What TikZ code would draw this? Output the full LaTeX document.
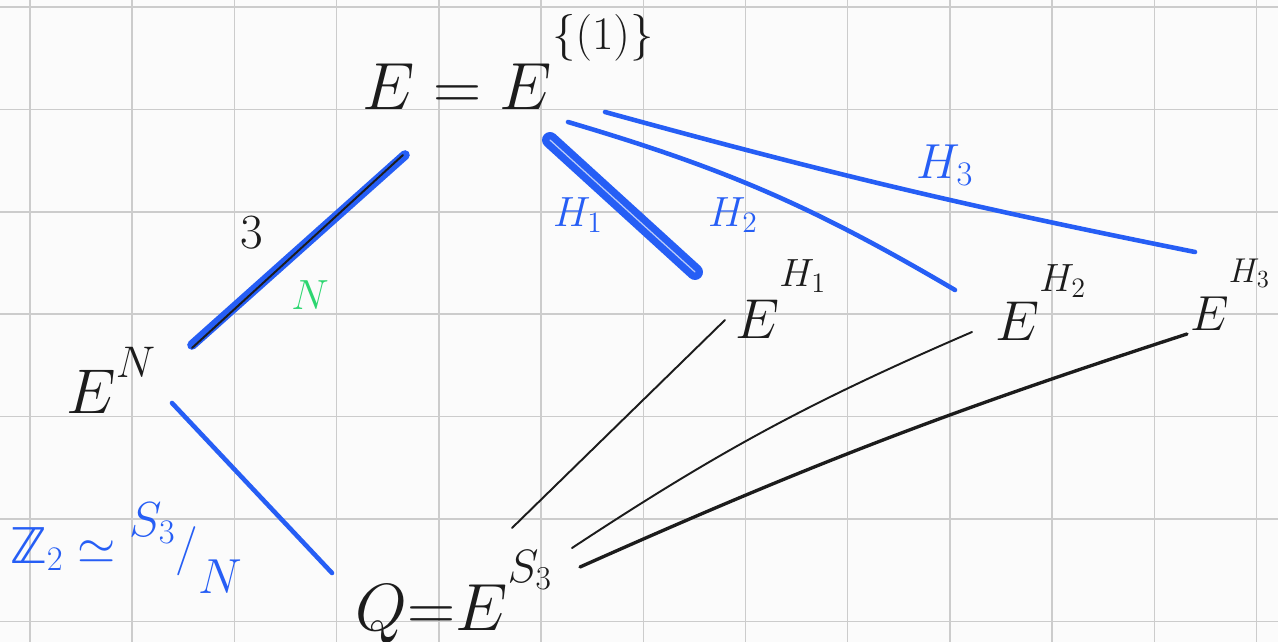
\documentclass[tikz,border=0pt]{standalone}
\usepackage{fix-cm}
\usepackage{fontspec}
\newfontfamily\symbfont{DejaVu Sans}
\newcommand{\upsup}[2]{^{\raisebox{#1}{$\scriptstyle #2$}}}
\definecolor{penblue}{RGB}{38, 94, 245}
\definecolor{pengreen}{RGB}{44, 214, 112}
\definecolor{penink}{RGB}{28, 28, 28}
\definecolor{gridgray}{RGB}{204, 204, 204}
\definecolor{paper}{RGB}{251, 251, 251}
\usetikzlibrary{positioning, calc}
\tikzset{
	field/.style={inner sep=0pt, anchor=base west, text=penink},
	edgelabel/.style={inner sep=0pt, font=\fontsize{24}{28}\selectfont},
	gridline/.style={draw=gridgray, line width=0.8pt},
	blueheavy/.style={draw=penblue, line width=5.5pt, line cap=round},
	bluedouble/.style={draw=penblue, line width=4.2pt, line cap=round, double=penblue!30!paper, double distance=0.7pt},
	bluepen/.style={draw=penblue, line width=2.6pt, line cap=round},
	inkthin/.style={draw=penink, line width=1.1pt, line cap=round},
	inkpen/.style={draw=penink, line width=1.9pt, line cap=round},
}

\begin{document}
\begin{tikzpicture}[x=0.2mm, y=-0.2mm]
		\useasboundingbox (0,0) rectangle (1278,642);
		\fill[paper] (0,0) rectangle (1278,642);
		\foreach \i in {0,...,12}
			\draw[gridline] ({30+102.2*\i},0) -- ({30+102.2*\i},642);
		\foreach \j in {0,...,6}
			\draw[gridline] (0,{7+102.4*\j}) -- (1278,{7+102.4*\j});

		\node[field, font=\fontsize{38}{42}\selectfont] (top) at (362,110) {$E\;{=}\;E\upsup{0.55em}{\{(1)\}}$};
		\node[field, font=\fontsize{36}{40}\selectfont] (EN) at (66,413) {$E\upsup{0.2em}{N}$};
		\node[field, font=\fontsize{38}{42}\selectfont] (Q) at (355,630) {$Q{=}E\upsup{0.35em}{S_3}$};
		\node[field, font=\fontsize{32}{36}\selectfont] (EH1) at (735,338) {$E\upsup{0.55em}{H_1}$};
		\node[field, font=\fontsize{32}{36}\selectfont] (EH2) at (995,340) {$E\upsup{0.5em}{H_2}$};
		\node[field, font=\fontsize{28}{32}\selectfont] (EH3) at (1190,330) {$E\upsup{0.6em}{H_3}$};

		\draw[blueheavy] ([shift={(43,45)}]top.base west) -- ([shift={(126,-68)}]EN.base west);
		\draw[inkthin] ([shift={(41,45)}]top.base west) -- ([shift={(126,-65)}]EN.base west);
		\draw[bluedouble] ([shift={(188,30)}]top.base west) -- ([shift={(-40,-66)}]EH1.base west);
		\draw[bluepen] ([shift={(206,12)}]top.base west) to[bend left=7] ([shift={(-40,-50)}]EH2.base west);
		\draw[bluepen] ([shift={(243,2)}]top.base west) to[bend right=2] ([shift={(5,-78)}]EH3.base west);
		\draw[bluepen] ([shift={(106,-10)}]EN.base west) -- ([shift={(-23,-57)}]Q.base west);
		\draw[inkthin] ([shift={(157,-102)}]Q.base west) -- ([shift={(-10,-18)}]EH1.base west);
		\draw[inkthin] ([shift={(217,-82)}]Q.base west) to[bend left=5] ([shift={(-23,-8)}]EH2.base west);
		\draw[inkpen] ([shift={(225,-63)}]Q.base west) to[bend left=3] ([shift={(-3,4)}]EH3.base west);

		\node[edgelabel, text=penink, font=\fontsize{28}{32}\selectfont] (three) at (252,233) {$3$};
		\node[edgelabel, text=pengreen] (nlabel) at (310,295) {$N$};
		\node[edgelabel, text=penblue] (hone) at (578,215) {$H_1$};
		\node[edgelabel, text=penblue] (htwo) at (733,215) {$H_2$};
		\node[edgelabel, text=penblue, font=\fontsize{28}{32}\selectfont] (hthree) at (945,165) {$H_3$};
		\node[edgelabel, text=penblue, font=\fontsize{28}{32}\selectfont] (quotient) at (126,548) {$\mbox{\symbfont ℤ}_2 \simeq \raisebox{0.55em}{$S_3$}\big/\raisebox{-0.6em}{$N$}$};
	\end{tikzpicture}
\end{document}
